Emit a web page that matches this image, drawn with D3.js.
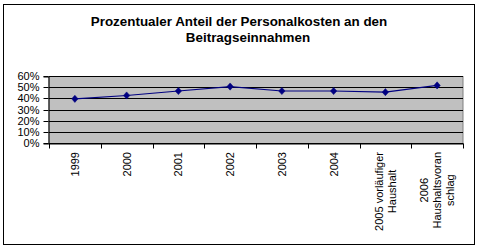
<!DOCTYPE html>
<html><head><meta charset="utf-8">
<script src="https://cdn.jsdelivr.net/npm/d3@7"></script>
<style>body{margin:0;background:#fff}svg{display:block}</style>
</head><body>
<svg id="c" width="481" height="250"></svg>
<script>
const categories = [["1999"],["2000"],["2001"],["2002"],["2003"],["2004"],["2005 vorläufiger","Haushalt"],["2006","Haushaltsvoran","schlag"]];
const values = [0.40, 0.43, 0.47, 0.51, 0.47, 0.47, 0.46, 0.52];
const yTicks = [0, 0.1, 0.2, 0.3, 0.4, 0.5, 0.6];
const titleLines = ["Prozentualer Anteil der Personalkosten an den", "Beitragseinnahmen"];

const svg = d3.select("#c");
const font = "Liberation Sans, Arial, sans-serif";
svg.append("rect").attr("x",3.5).attr("y",4.5).attr("width",471).attr("height",240)
  .attr("fill","#fff").attr("stroke","#000").attr("stroke-width",1);

// title
svg.append("text").attr("x",239).attr("y",26).attr("text-anchor","middle")
  .attr("font-family",font).attr("font-weight","bold").attr("font-size",13.4).text(titleLines[0]);
svg.append("text").attr("x",248).attr("y",42).attr("text-anchor","middle")
  .attr("font-family",font).attr("font-weight","bold").attr("font-size",13.4).text(titleLines[1]);

const L = 49, R = 463, T = 76.5, B = 143.5;
const keys = categories.map((c,i)=>i);
const x = d3.scaleBand().domain(keys).range([L,R]).padding(0);
const y = d3.scaleLinear().domain([0,0.6]).range([B,T]);
const cy = v => Math.round(y(v)-0.5)+0.5;

svg.append("rect").attr("x",L).attr("y",T).attr("width",R-L).attr("height",B-T)
  .attr("fill","#C0C0C0").attr("stroke","#808080").attr("stroke-width",1);

// gridlines
svg.append("g").selectAll("line").data(yTicks).join("line")
  .attr("x1",L).attr("x2",R).attr("y1",d=>cy(d)).attr("y2",d=>cy(d))
  .attr("stroke","#000").attr("stroke-width",1);

// y axis
const ya = svg.append("g").attr("transform",`translate(${L-0.5},0)`)
  .call(d3.axisLeft(y).tickValues(yTicks).tickFormat(d3.format(".0%")).tickSize(5).tickPadding(4));
ya.select(".domain").attr("stroke","#000");
ya.selectAll(".tick").attr("transform",d=>`translate(0,${cy(d)})`);
ya.selectAll(".tick line").attr("stroke","#000");
ya.selectAll(".tick text").attr("font-family",font).attr("font-size",11).attr("fill","#000");

// x axis
const xa = svg.append("g").attr("transform",`translate(0,${B})`)
  .call(d3.axisBottom(x).tickSize(0).tickFormat(""));
xa.select(".domain").attr("stroke","#000");
const tickPos = keys.map(k=>x(k)).concat([R]);
xa.selectAll(".xt").data(tickPos).join("line").attr("class","xt")
  .attr("x1",d=>Math.round(d)+0.5).attr("x2",d=>Math.round(d)+0.5).attr("y1",0).attr("y2",5)
  .attr("stroke","#000");

// category labels
const lg = svg.append("g").selectAll("g").data(categories).join("g")
  .attr("transform",(d,i)=>`translate(${x(i)+x.bandwidth()/2},152) rotate(-90)`);
lg.each(function(lines){
  const g = d3.select(this);
  const n = lines.length;
  const ts = lines.map((t,j)=>g.append("text").attr("font-family",font).attr("font-size",11)
    .attr("text-anchor","middle").attr("y",(j-(n-1)/2)*13).attr("dy","0.36em").text(t));
  const maxW = d3.max(ts, t=>t.node().getComputedTextLength());
  ts.forEach(t=>t.attr("x",-maxW/2));
});

// line
svg.append("path").datum(values)
  .attr("d", d3.line().x((d,i)=>x(i)+x.bandwidth()/2).y(d=>y(d)))
  .attr("fill","none").attr("stroke","#000080").attr("stroke-width",1.2);

const diamond = {draw(ctx,size){ const w=3.2,h=3.6; ctx.moveTo(0,-h); ctx.lineTo(w,0); ctx.lineTo(0,h); ctx.lineTo(-w,0); ctx.closePath(); }};
svg.append("g").selectAll("path").data(values).join("path")
  .attr("transform",(d,i)=>`translate(${x(i)+x.bandwidth()/2},${y(d)})`)
  .attr("d", d3.symbol().type(diamond)())
  .attr("fill","#000080").attr("stroke","#000080").attr("stroke-width",0.5);
</script>
</body></html>
